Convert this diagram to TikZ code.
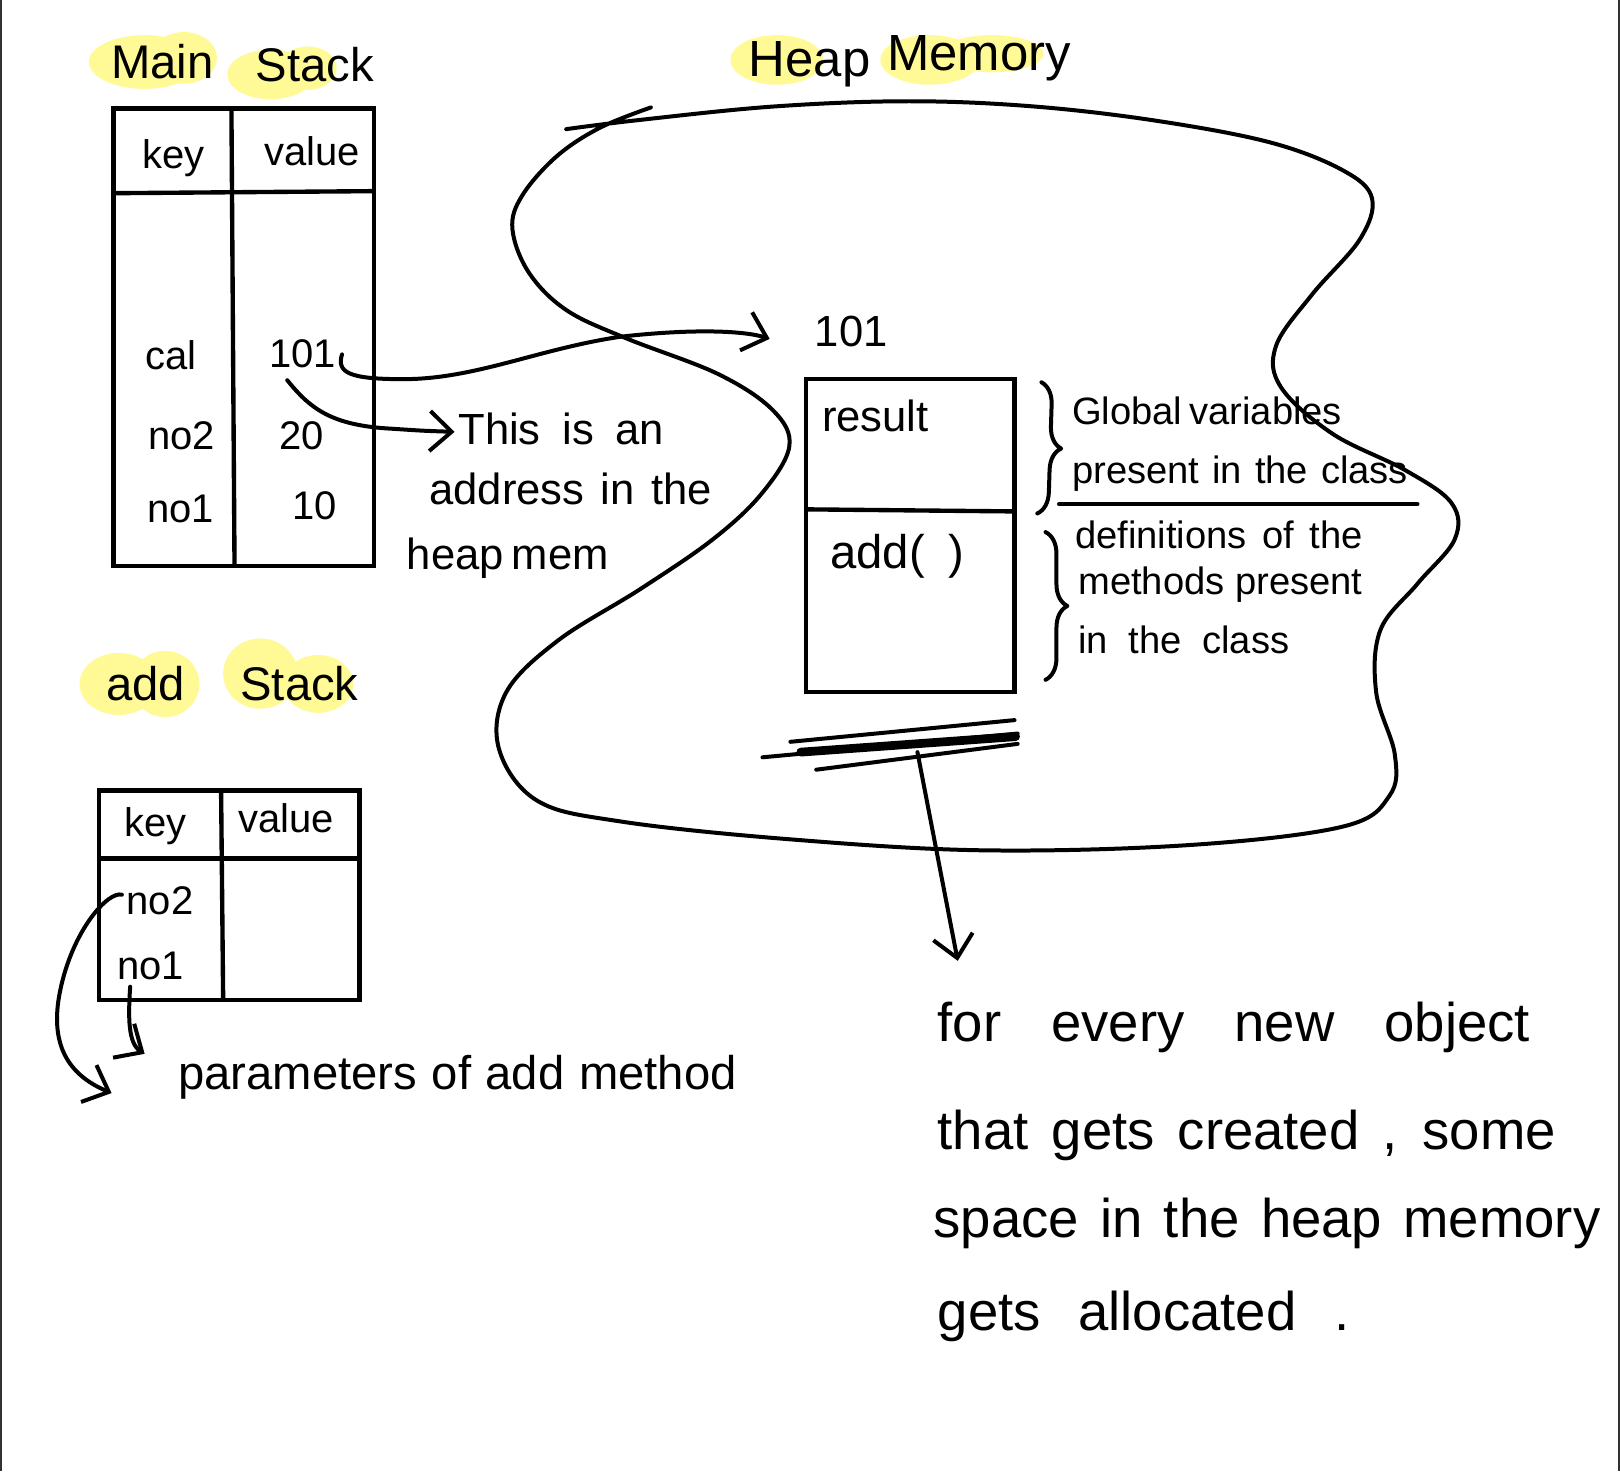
\documentclass[tikz,border=0pt]{standalone}
\usepackage{fontspec}
\setmainfont{Liberation Sans}
\usetikzlibrary{arrows.meta,decorations.pathreplacing}
\definecolor{hl}{RGB}{255,250,150}
\definecolor{edgegray}{RGB}{50,50,50}
\newcommand\fsz[1]{\fontsize{#1}{#1}\selectfont}
\newcommand\spread[2]{\makebox[#1][s]{#2}}
\begin{document}
\begin{tikzpicture}[x=0.01cm,y=-0.01cm,
  ink/.style={line width=1.1pt, line cap=round, line join=round},
  tbl/.style={line width=1.2pt},
  txt/.style={inner sep=0pt, anchor=base west},
  tip/.style={-{Straight Barb[length=6pt,width=11pt,line width=1.1pt]}},
  hlfill/.style={fill=hl, draw=none}]
\useasboundingbox (0,0) rectangle (1568,1424);
\fill[white] (0,0) rectangle (1568,1424);
\draw[edgegray, line width=1pt] (0.5,0) -- (0.5,1424);
\draw[edgegray, line width=1pt] (1567.5,0) -- (1567.5,1424);

% highlights
\fill[hlfill] (140,60) ellipse [x radius=54, y radius=26];
\fill[hlfill] (178,56) ellipse [x radius=32, y radius=25];
\fill[hlfill] (262,72) ellipse [x radius=42, y radius=24];
\fill[hlfill] (298,66) ellipse [x radius=28, y radius=21];
\fill[hlfill] (752,58) ellipse [x radius=45, y radius=24];
\fill[hlfill] (900,58) ellipse [x radius=48, y radius=24];
\fill[hlfill] (960,52) ellipse [x radius=50, y radius=18];
\fill[hlfill] (115,662) ellipse [x radius=38, y radius=30];
\fill[hlfill] (160,662) ellipse [x radius=33, y radius=32];
\fill[hlfill] (252,652) ellipse [x radius=36, y radius=34];
\fill[hlfill] (308,662) ellipse [x radius=34, y radius=28];

% titles
\node[txt, font=\fsz{13}] (tMain) at (107,76) {Main};
\node[txt, font=\fsz{13}] (tStack) at (247,79) {Stack};
\node[txt, font=\fsz{14}] (tHeap) at (724,74) {Heap};
\node[txt, font=\fsz{14}] (tMemory) at (858,68) {Memory};
\node[txt, font=\fsz{13}] (tAdd) at (102,678) {add};
\node[txt, font=\fsz{13}] (tAddStack) at (232,678) {Stack};

% main stack table
\draw[tbl] (110,105) rectangle (362,548);
\draw[tbl] (110,187) -- (362,185);
\draw[tbl] (224,105) -- (227,548);
\node[txt, font=\fsz{11}] (mKey) at (137,163) {key};
\node[txt, font=\fsz{11}] (mValue) at (255,160) {value};
\node[txt, font=\fsz{11}] (mCal) at (140,358) {cal};
\node[txt, font=\fsz{11}] (mV101) at (260,356) {101};
\node[txt, font=\fsz{11}] (mNo2) at (143,435) {no2};
\node[txt, font=\fsz{11}] (mV20) at (270,435) {20};
\node[txt, font=\fsz{11}] (mNo1) at (142,506) {no1};
\node[txt, font=\fsz{11}] (mV10) at (282,503) {10};

% add stack table
\draw[tbl] (96,765) rectangle (348,968);
\draw[tbl] (96,831) -- (348,831);
\draw[tbl] (214,765) -- (216,968);
\node[txt, font=\fsz{11}] (aKey) at (120,810) {key};
\node[txt, font=\fsz{11}] (aValue) at (230,806) {value};
\node[txt, font=\fsz{11}] (aNo2) at (122,885) {no2};
\node[txt, font=\fsz{11}] (aNo1) at (113,948) {no1};

% heap blob
\draw[ink] plot[smooth, tension=0.6] coordinates {
 (548,125) (620,116) (750,103) (880,98) (1000,103) (1120,117) (1230,138)
 (1300,165) (1328,192) (1316,232) (1270,285) (1235,335) (1240,375)
 (1290,420) (1360,455) (1405,487) (1408,522) (1372,565) (1336,610)
 (1332,670) (1350,730) (1345,770) (1300,800) (1150,818) (950,823)
 (760,812) (600,795) (520,775) (483,725) (490,670) (540,620) (620,570)
 (690,522) (737,478) (764,432) (748,397) (695,362) (605,327) (548,300)
 (512,264) (496,222) (505,190) (538,152) (580,124) (630,104)};

% heap object
\node[txt, font=\fsz{12}] (h101) at (788,335) {101};
\draw[tbl] (780,367) rectangle (982,670);
\draw[tbl] (780,493) -- (982,495);
\node[txt, font=\fsz{12}] (hResult) at (795,418) {result};
\node[txt, font=\fsz{13}] (hAdd) at (803,550) {\spread{1.3cm}{add( )}};

% braces and notes
\draw[ink, decorate, decoration={brace, amplitude=6pt}] (1008,370) -- (1004,497);
\draw[ink, decorate, decoration={brace, amplitude=6pt}] (1012,515) -- (1012,658);
\node[txt, font=\fsz{10.5}] (nGlobal) at (1037,411) {\spread{2.45cm}{Global variables}};
\node[txt, font=\fsz{10.5}] (nPresent) at (1037,468) {\spread{3.25cm}{present in the class}};
\draw[ink] (1025,488) -- (1372,488);
\node[txt, font=\fsz{10.5}] (nDef) at (1040,531) {\spread{2.78cm}{definitions of the}};
\node[txt, font=\fsz{10.5}] (nMeth) at (1043,575) {\spread{2.75cm}{methods present}};
\node[txt, font=\fsz{10.5}] (nClass) at (1043,633) {\spread{2.04cm}{in the class}};

% address note
\node[txt, font=\fsz{12}] (tThis) at (443,430) {\spread{1.99cm}{This is an}};
\node[txt, font=\fsz{12}] (tAddr) at (415,488) {\spread{2.73cm}{address in the}};
\node[txt, font=\fsz{12}] (tHeapMem) at (393,551) {\spread{1.89cm}{heap mem}};

% parameters note
\node[txt, font=\fsz{13}] (tParams) at (172,1055) {\spread{5.40cm}{parameters of add method}};

% bottom note
\node[txt, font=\fsz{15}] (b1) at (907,1008) {\spread{5.73cm}{for every new object}};
\node[txt, font=\fsz{15}] (b2) at (907,1113) {\spread{5.98cm}{that gets created , some}};
\node[txt, font=\fsz{15}] (b3) at (903,1198) {\spread{6.45cm}{space in the heap memory}};
\node[txt, font=\fsz{15}] (b4) at (907,1288) {\spread{3.98cm}{gets allocated .}};

% connectors
\coordinate (a1s) at (331,343);
\coordinate (a1e) at (745,328);
\draw[ink, tip] (a1s) .. controls (326,360) and (336,367) .. (390,367)
  .. controls (460,367) and (520,338) .. (600,326)
  .. controls (670,318) and (720,320) .. (a1e);

\coordinate (a2s) at (278,368);
\coordinate (a2e) at (440,418);
\draw[ink, tip] (a2s) .. controls (300,395) and (320,412) .. (380,415)
  .. controls (410,417) .. (a2e);

\coordinate (a3s) at (118,866);
\coordinate (a3e) at (108,1058);
\draw[ink, tip] (a3s) .. controls (105,862) and (70,900) .. (58,960)
  .. controls (48,1010) and (65,1040) .. (a3e);

\coordinate (a4s) at (126,955);
\coordinate (a4e) at (140,1020);
\draw[ink, tip] (a4s) .. controls (124,985) and (124,1010) .. (a4e);

% scribble under heap object and arrow to note
\draw[ink] (765,718) -- (982,697);
\draw[ink] (738,733) -- (985,710);
\draw[ink, line width=2.4pt] (775,728) -- (983,713);
\draw[ink] (790,745) -- (985,720);
\coordinate (a5s) at (888,728);
\coordinate (a5e) at (927,930);
\draw[ink, tip] (a5s) -- (a5e);
\end{tikzpicture}
\end{document}
